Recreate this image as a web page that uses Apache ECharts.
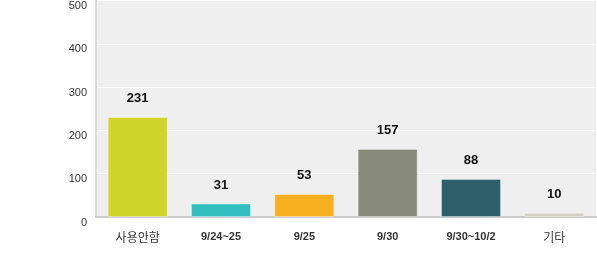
<!DOCTYPE html>
<html><head><meta charset="utf-8">
<script src="https://cdn.jsdelivr.net/npm/echarts@6/dist/echarts.min.js"></script>
<style>html,body{margin:0;padding:0;background:#fff}#c{width:597px;height:253px}</style>
</head><body><div id="c"></div>
<script>
var categories = ['사용안함', '9/24~25', '9/25', '9/30', '9/30~10/2', '기타'];
var values = [231, 31, 53, 157, 88, 10];
var colors = ['#cfd42a', '#33bfbf', '#f8b020', '#878a78', '#2e5f6b', '#d2d1c2'];
var boldCats = [false, true, true, true, true, false];
var yTicks = [0, 100, 200, 300, 400, 500];

var chart = echarts.init(document.getElementById('c'), null, {renderer: 'canvas'});
chart.setOption({
  animation: false,
  grid: {left: 96, right: 1, top: 0.5, bottom: 36, show: true, backgroundColor: '#efefef', borderWidth: 0,
    outerBoundsMode: 'none', containLabel: false},
  xAxis: {
    type: 'category', data: categories,
    axisTick: {show: false},
    axisLine: {lineStyle: {color: '#cccccc', width: 2}},
    axisLabel: {
      interval: 0, margin: 14, fontSize: 11, color: '#333',
      fontFamily: 'Arial, "Liberation Sans", "Noto Sans CJK KR", sans-serif',
      formatter: function (v, i) { return boldCats[i] ? '{b|' + v + '}' : '{n|' + v + '}'; },
      rich: {
        b: {fontWeight: 'bold', fontSize: 11, color: '#333', fontFamily: 'Arial, "Liberation Sans", sans-serif'},
        n: {fontSize: 12, color: '#333', fontFamily: '"Noto Sans CJK KR", sans-serif'}
      }
    }
  },
  yAxis: {
    type: 'value', min: 0, max: 500, interval: 100,
    axisLine: {show: true, lineStyle: {color: '#dadada', width: 2}},
    axisTick: {show: false},
    splitLine: {lineStyle: {color: '#ffffff', width: 1}},
    axisLabel: {margin: 9, fontSize: 11, color: '#333', verticalAlign: 'top', lineHeight: 11,
      fontFamily: 'Arial, "Liberation Sans", sans-serif',
      formatter: function (v) { return yTicks.indexOf(v) >= 0 ? String(v) : ''; }}
  },
  series: [{
    type: 'bar', barWidth: '72%',
    data: values.map(function (v, i) { return {value: v, itemStyle: {color: colors[i], borderColor: 'rgba(255,255,255,0.35)', borderWidth: 1}}; }),
    label: {show: true, position: 'top', distance: 12, fontWeight: 'bold', fontSize: 13, color: '#111',
      fontFamily: 'Arial, "Liberation Sans", sans-serif'}
  }]
});
</script></body></html>
